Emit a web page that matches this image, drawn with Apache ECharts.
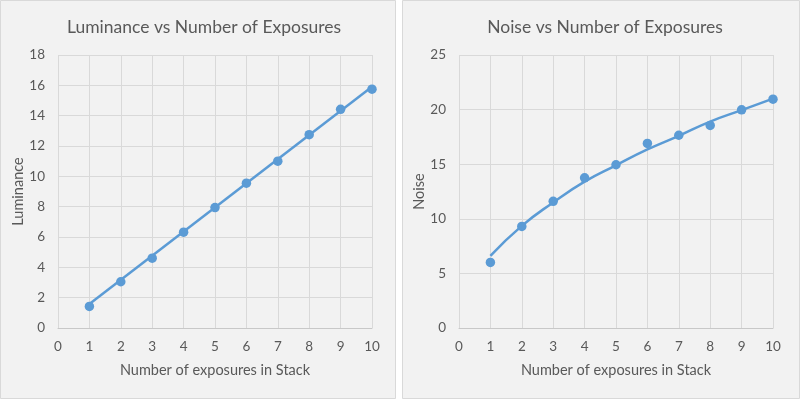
<!DOCTYPE html>
<html><head><meta charset="utf-8">
<script src="https://cdn.jsdelivr.net/npm/echarts@6/dist/echarts.min.js"></script>
<style>html,body{margin:0;padding:0;background:#fff}#c{width:800px;height:400px}</style>
</head><body><div id="c"></div>
<script>
const exposures = [1,2,3,4,5,6,7,8,9,10];
const luminance = [1.42,3.05,4.6,6.32,7.94,9.55,11.0,12.75,14.42,15.75];
const luminanceTrend = [1.58,15.9]; // trend line values at x=1 and x=10
const noise = [6.0,9.3,11.6,13.75,14.95,16.9,17.65,18.55,19.98,20.95];
const noiseTrend = [6.6,9.35,11.5,13.4,14.9,16.35,17.6,18.9,19.95,21.0];
const lumTicks = {min:0,max:18,interval:2};
const noiseTicks = {min:0,max:25,interval:5};
const xTicks = {min:0,max:10,interval:1};

const C = '#5b9bd5', TXT = '#595959', GRID = '#d9d9d9';
const FONT = 'Lato, "Open Sans", sans-serif';
const pair = (xs, ys) => xs.map((x,i)=>[x,ys[i]]);

function xAxis(gi){return {gridIndex:gi,type:'value',min:xTicks.min,max:xTicks.max,interval:xTicks.interval,
  name:'Number of exposures in Stack',nameLocation:'middle',nameGap:35,
  nameTextStyle:{color:TXT,fontSize:14.5,fontFamily:FONT},
  axisLine:{show:true,lineStyle:{color:'#c8c8c8'}},axisTick:{show:false},
  axisLabel:{color:TXT,fontSize:13.5,fontFamily:FONT,margin:12},
  splitLine:{show:true,lineStyle:{color:GRID,width:1}}};}
function yAxis(gi,t,name){return {gridIndex:gi,type:'value',min:t.min,max:t.max,interval:t.interval,
  name:name,nameLocation:'middle',nameGap:29,nameRotate:90,
  nameTextStyle:{color:TXT,fontSize:14.5,fontFamily:FONT},
  axisLine:{show:false},axisTick:{show:false},
  axisLabel:{color:TXT,fontSize:13.5,fontFamily:FONT,margin:13},
  splitLine:{show:true,lineStyle:{color:GRID,width:1}}};}

const chart = echarts.init(document.getElementById('c'));
chart.setOption({
  backgroundColor:'#ffffff',
  animation:false,
  graphic:[
    {type:'rect',shape:{x:0.5,y:0.5,width:395,height:398},style:{fill:'#f2f2f2',stroke:'#d9d9d9',lineWidth:1},z:-10},
    {type:'rect',shape:{x:402.5,y:0.5,width:397,height:398},style:{fill:'#f2f2f2',stroke:'#d9d9d9',lineWidth:1},z:-10}
  ],
  title:[
    {text:'Luminance vs Number of Exposures',left:199,top:13,textAlign:'center',textStyle:{color:TXT,fontSize:17.5,fontWeight:'normal',fontFamily:FONT}},
    {text:'Noise vs Number of Exposures',left:600,top:13,textAlign:'center',textStyle:{color:TXT,fontSize:17.5,fontWeight:'normal',fontFamily:FONT}}
  ],
  grid:[
    {left:58,right:428,top:55,bottom:72},
    {left:459,right:27,top:55,bottom:72}
  ],
  xAxis:[xAxis(0),xAxis(1)],
  yAxis:[yAxis(0,lumTicks,'Luminance'),yAxis(1,noiseTicks,'Noise')],
  series:[
    {type:'line',xAxisIndex:0,yAxisIndex:0,data:[[exposures[0],luminanceTrend[0]],[exposures[exposures.length-1],luminanceTrend[1]]],
     showSymbol:false,lineStyle:{color:C,width:2.5},z:2},
    {type:'scatter',xAxisIndex:0,yAxisIndex:0,data:pair(exposures,luminance),symbolSize:9.5,itemStyle:{color:C,opacity:1},z:3},
    {type:'line',xAxisIndex:1,yAxisIndex:1,data:pair(exposures,noiseTrend),smooth:true,
     showSymbol:false,lineStyle:{color:C,width:2.5},z:2},
    {type:'scatter',xAxisIndex:1,yAxisIndex:1,data:pair(exposures,noise),symbolSize:9.5,itemStyle:{color:C,opacity:1},z:3}
  ]
});
</script></body></html>
